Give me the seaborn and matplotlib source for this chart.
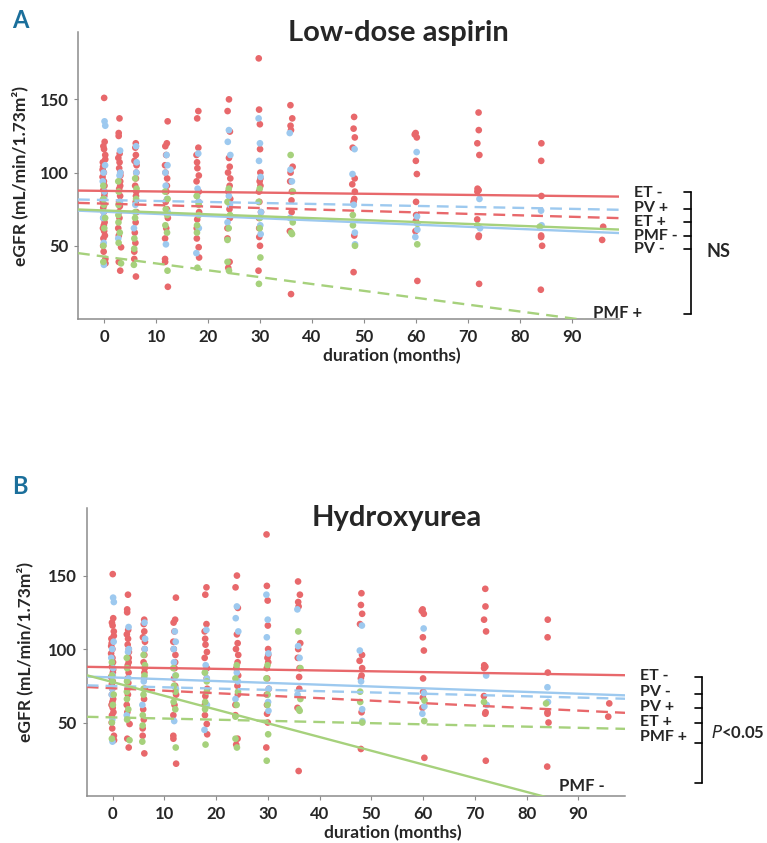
import numpy as np
import pandas as pd
import matplotlib.pyplot as plt
from matplotlib.lines import Line2D
import seaborn as sns


months = [0, 3, 6, 12, 18, 24, 30, 36, 48, 60, 72, 84, 96]
groups = ["ET", "PV", "PMF"]
colors = {"ET": "#E8686B", "PV": "#9DC9EF", "PMF": "#A6D17C"}

# eGFR values per visit (one list per month)
et_egfr = [
    [151, 121, 118, 116, 112, 109, 107, 104, 102, 100, 97, 94, 91, 88, 86, 84, 81, 78, 76, 73, 69, 66, 64, 62, 60, 57, 55, 50, 46, 41, 38],
    [137, 127, 125, 113, 110, 107, 103, 100, 98, 94, 91, 89, 84, 80, 77, 73, 69, 62, 57, 49, 39, 33],
    [120, 117, 112, 108, 105, 100, 96, 91, 87, 84, 80, 73, 66, 59, 52, 46, 41, 29],
    [135, 120, 118, 112, 105, 100, 96, 91, 87, 80, 75, 69, 62, 55, 41, 39, 22],
    [142, 137, 117, 112, 107, 103, 98, 94, 87, 80, 73, 68, 62, 55, 49, 42],
    [150, 142, 128, 110, 104, 100, 96, 91, 87, 82, 75, 69, 62, 55, 39, 35],
    [178, 143, 133, 116, 100, 96, 94, 91, 87, 80, 73, 69, 62, 56, 50, 33],
    [146, 137, 132, 129, 104, 100, 94, 87, 81, 73, 60, 17],
    [138, 130, 124, 117, 96, 92, 87, 82, 80, 57, 32],
    [127, 126, 124, 108, 99, 80, 71, 67, 60, 26],
    [141, 129, 120, 112, 89, 88, 87, 68, 57, 56, 24],
    [120, 108, 84, 57, 56, 50, 20],
    [63, 54],
]
pv_egfr = [
    [135, 132, 105, 100, 94, 87, 82, 73, 69, 52, 37],
    [115, 100, 98, 80, 55],
    [118, 107, 100, 78, 62],
    [112, 105, 100, 91, 82, 73, 51],
    [113, 89, 84, 80, 62, 45],
    [129, 121, 112, 84, 78, 66],
    [137, 120, 108, 97, 73, 64, 58],
    [127, 102, 94, 69],
    [116, 99, 78, 59, 51],
    [114, 70, 61, 56],
    [82, 62],
    [74, 64],
    [],
]
pmf_egfr = [
    [91, 82, 78, 69, 62, 50, 39],
    [94, 87, 78, 71, 66, 59, 52, 38],
    [96, 89, 82, 73, 69, 55, 48, 37],
    [87, 82, 75, 71, 64, 59, 33],
    [84, 78, 71, 64, 59, 35],
    [89, 80, 71, 62, 54, 39, 33],
    [89, 80, 69, 62, 42, 24],
    [112, 87, 66, 59, 58],
    [71, 64, 50],
    [65, 51],
    [64],
    [63],
    [],
]

# trend lines: eGFR at x = -5 and x = 99 months
line_x = [-5, 99]
line_names = ["ET -", "ET +", "PV -", "PV +", "PMF -", "PMF +"]
line_groups = ["ET", "ET", "PV", "PV", "PMF", "PMF"]
aspirin_start = [87.7, 79.3, 74.0, 81.6, 74.8, 45.0]
aspirin_end = [83.6, 68.9, 58.7, 74.6, 61.1, -3.8]
hu_start = [87.9, 74.2, 81.3, 75.3, 82.2, 53.9]
hu_end = [82.2, 56.6, 68.5, 66.2, -15.0, 45.7]

aspirin_labels = ["ET -", "PV +", "ET +", "PMF -", "PV -"]
hu_labels = ["ET -", "PV -", "PV +", "ET +", "PMF +"]

W, H = 767, 843


def fx(x, y):
    return x / W, 1 - y / H


def build_df():
    rows = []
    for g, vals in zip(groups, [et_egfr, pv_egfr, pmf_egfr]):
        for m, lst in zip(months, vals):
            for v in lst:
                rows.append((m, v, g))
    return pd.DataFrame(rows, columns=["month", "egfr", "group"])


def draw_panel(ax, df, starts, ends, xlab_x, ylab_x):
    np.random.seed(3)
    sns.stripplot(data=df, x="month", y="egfr", hue="group", hue_order=groups,
                  palette=colors, native_scale=True, orient="x", jitter=0.1,
                  size=4.8, linewidth=0, legend=False, ax=ax, zorder=2)
    for name, g, y0, y1 in zip(line_names, line_groups, starts, ends):
        ls = (0, (5, 3)) if name.endswith("+") else "-"
        ax.plot(line_x, [y0, y1], color=colors[g], lw=1.7, ls=ls, zorder=3)
    ax.set_xlim(-5, 99)
    ax.set_ylim(0, 196)
    ax.set_xticks(range(0, 100, 10))
    ax.set_yticks([50, 100, 150])
    sns.despine(ax=ax)
    for s in ["left", "bottom"]:
        ax.spines[s].set_color("#8c8c8c")
        ax.spines[s].set_linewidth(1.1)
    ax.tick_params(length=3, color="#8c8c8c", labelsize=12, pad=4)
    for t in ax.get_xticklabels() + ax.get_yticklabels():
        t.set_fontweight("bold")
    ax.set_xlabel("duration (months)", fontsize=12.5, fontweight="bold")
    ax.set_ylabel("eGFR (mL/min/1.73m²)", fontsize=12.5, fontweight="bold")
    ax.xaxis.set_label_coords(xlab_x, -0.102)
    ax.yaxis.set_label_coords(ylab_x, 0.5)


def bracket(fig, x, ys, tick=7):
    fig.add_artist(Line2D([x / W, x / W], [1 - ys[0] / H, 1 - ys[-1] / H],
                          transform=fig.transFigure, color="black", lw=1.2))
    for y in ys:
        fig.add_artist(Line2D([(x - tick) / W, x / W], [1 - y / H, 1 - y / H],
                              transform=fig.transFigure, color="black", lw=1.2))


sns.set_style("ticks")
plt.rcParams["font.family"] = ["Lato", "DejaVu Sans"]

df = build_df()
fig = plt.figure(figsize=(7.67, 8.43), dpi=100)
ax_a = fig.add_axes([78 / W, 1 - 319 / H, (619 - 78) / W, (319 - 32) / H])
ax_b = fig.add_axes([86.7 / W, 1 - 796 / H, (625 - 86.7) / W, (796 - 508) / H])

draw_panel(ax_a, df, aspirin_start, aspirin_end, 0.58, -0.092)
draw_panel(ax_b, df, hu_start, hu_end, 0.569, -0.1)

panel_font = ["Liberation Sans Narrow", "Lato", "DejaVu Sans"]
fig.text(*fx(12, 20), "A", color="#1B6F9B", fontsize=17, fontweight="bold",
         family=panel_font, va="center", ha="left")
fig.text(*fx(12, 487), "B", color="#1B6F9B", fontsize=17, fontweight="bold",
         family=panel_font, va="center", ha="left")

fig.text(*fx(398, 33), "Low-dose aspirin", fontsize=21, fontweight="bold", ha="center", va="center")
fig.text(*fx(397, 518), "Hydroxyurea", fontsize=21, fontweight="bold", ha="center", va="center")

# panel A labels
for lab, y in zip(aspirin_labels, [193, 208, 222, 236, 249]):
    fig.text(*fx(634, y), lab, fontsize=11.5, fontweight="bold", ha="left", va="center")
fig.text(*fx(593, 313), "PMF +", fontsize=12, fontweight="bold", ha="left", va="center")
fig.text(*fx(707, 252), "NS", fontsize=13, fontweight="bold", ha="left", va="center")
bracket(fig, 691, [192, 209, 222, 236, 249, 314])

# panel B labels
for lab, y in zip(hu_labels, [676, 692, 707, 722, 737]):
    fig.text(*fx(640, y), lab, fontsize=11.5, fontweight="bold", ha="left", va="center")
fig.text(*fx(559, 786), "PMF -", fontsize=12, fontweight="bold", ha="left", va="center")
fig.text(*fx(711, 732), r"$\mathit{P}$<0.05", fontsize=12, fontweight="bold", ha="left", va="center")
bracket(fig, 702, [677, 694, 708, 723, 743, 783])

fig.savefig("out.png", dpi=100)
